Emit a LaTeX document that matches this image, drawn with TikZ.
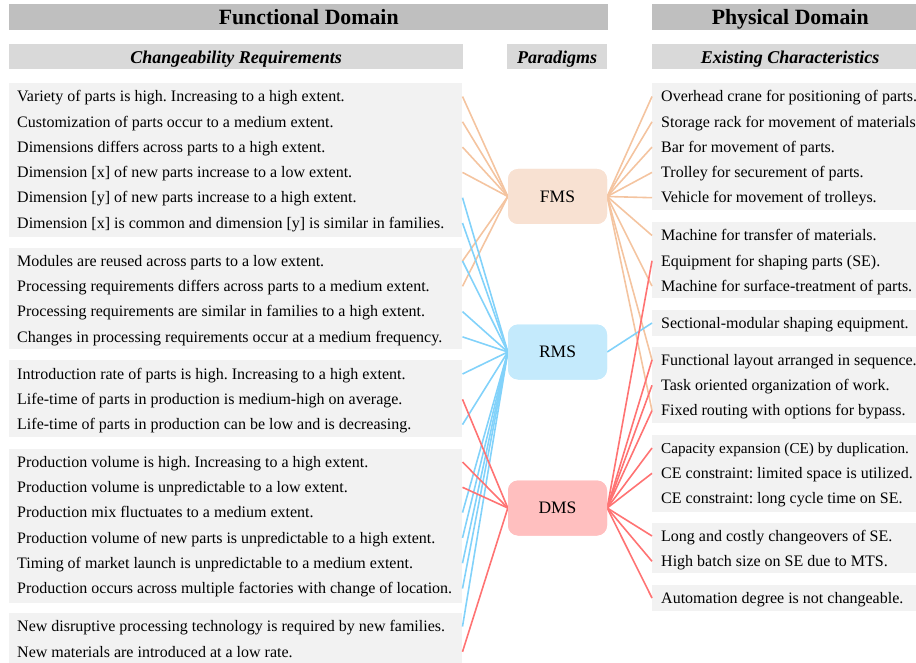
\documentclass[tikz,border=0pt]{standalone}
\usepackage{fontspec}
\setmainfont{Liberation Serif}
\frenchspacing
\definecolor{hdrgray}{HTML}{BFBFBF}
\definecolor{subgray}{HTML}{D9D9D9}
\definecolor{boxgray}{HTML}{F2F2F2}
\definecolor{fmsfill}{HTML}{F8E1D2}
\definecolor{fmsline}{HTML}{F4C4A0}
\definecolor{rmsfill}{HTML}{C4EAFC}
\definecolor{rmsline}{HTML}{82D2FA}
\definecolor{dmsfill}{HTML}{FFBFBF}
\definecolor{dmsline}{HTML}{FF7373}
\begin{document}
\begin{tikzpicture}[x=1pt,y=-1pt,
  hdrbar/.style={fill=hdrgray,draw=none,inner sep=0pt,anchor=north west,minimum height=26pt,
    text height=14.6pt,text depth=0pt,font=\fontsize{21.8}{24}\selectfont\bfseries},
  subbar/.style={fill=subgray,draw=none,inner sep=0pt,anchor=north west,minimum height=25pt,
    text height=14.6pt,text depth=0pt,font=\fontsize{18}{20}\selectfont\bfseries\itshape},
  gbox/.style={fill=boxgray,draw=none,inner sep=0pt,anchor=north west},
  lbox/.style={gbox,minimum width=453pt},
  rbox/.style={gbox,minimum width=280pt},
  rowtext/.style={anchor=west,inner sep=0pt,text height=10.5pt,text depth=0pt,
    font=\fontsize{16}{18}\selectfont},
  paradigm/.style={rounded corners=10pt,draw=none,minimum width=99pt,minimum height=55pt,
    inner sep=0pt,font=\fontsize{17.5}{20}\selectfont},
  fmsc/.style={draw=fmsline,line width=1.6pt},
  rmsc/.style={draw=rmsline,line width=1.6pt},
  dmsc/.style={draw=dmsline,line width=1.6pt}]
\useasboundingbox (0,0) rectangle (916,663);
\clip (0,0) rectangle (916,663);

% headers
\node[hdrbar,minimum width=599pt] (fdom) at (9,4) {Functional Domain};
\node[hdrbar,minimum width=276pt] (pdom) at (652,4) {Physical Domain};
\node[subbar,minimum width=454pt] (chreq) at (9,44) {Changeability Requirements};
\node[subbar,minimum width=100pt] (parad) at (507,44) {Paradigms};
\node[subbar,minimum width=276pt] (exch) at (652,44) {Existing Characteristics};

% left group boxes
\node[lbox,minimum height=154pt] (lg1) at (9,83) {};
\node[lbox,minimum height=101pt] (lg2) at (9,248) {};
\node[lbox,minimum height=77pt] (lg3) at (9,360) {};
\node[lbox,minimum height=154pt] (lg4) at (9,449) {};
\node[lbox,minimum height=60pt] (lg5) at (9,613) {};

% right group boxes
\node[rbox,minimum height=127pt] (rg1) at (652,83) {};
\node[rbox,minimum height=76pt] (rg2) at (652,222) {};
\node[rbox,minimum height=26pt] (rg3) at (652,310) {};
\node[rbox,minimum height=76pt] (rg4) at (652,347) {};
\node[rbox,minimum height=77pt] (rg5) at (652,435) {};
\node[rbox,minimum height=50pt] (rg6) at (652,523) {};
\node[rbox,minimum height=26pt] (rg7) at (652,585) {};

% edges of the columns
\coordinate (LE) at (462.5,0);
\coordinate (RE) at (652,0);

% left rows
\node[rowtext] (l1) at (17,96.5) {Variety of parts is high. Increasing to a high extent.};
\node[rowtext] (l2) at (17,121.8) {Customization of parts occur to a medium extent.};
\node[rowtext] (l3) at (17,147.1) {Dimensions differs across parts to a high extent.};
\node[rowtext] (l4) at (17,172.4) {Dimension [x] of new parts increase to a low extent.};
\node[rowtext] (l5) at (17,197.7) {Dimension [y] of new parts increase to a high extent.};
\node[rowtext] (l6) at (17,223) {Dimension [x] is common and dimension [y] is similar in families.};
\node[rowtext] (l7) at (17,261) {Modules are reused across parts to a low extent.};
\node[rowtext] (l8) at (17,286.3) {Processing requirements differs across parts to a medium extent.};
\node[rowtext] (l9) at (17,311.6) {Processing requirements are similar in families to a high extent.};
\node[rowtext] (l10) at (17,336.9) {Changes in processing requirements occur at a medium frequency.};
\node[rowtext] (l11) at (17,374) {Introduction rate of parts is high. Increasing to a high extent.};
\node[rowtext] (l12) at (17,399.3) {Life-time of parts in production is medium-high on average.};
\node[rowtext] (l13) at (17,424.6) {Life-time of parts in production can be low and is decreasing.};
\node[rowtext] (l14) at (17,462) {Production volume is high. Increasing to a high extent.};
\node[rowtext] (l15) at (17,487.3) {Production volume is unpredictable to a low extent.};
\node[rowtext] (l16) at (17,512.6) {Production mix fluctuates to a medium extent.};
\node[rowtext] (l17) at (17,537.9) {Production volume of new parts is unpredictable to a high extent.};
\node[rowtext] (l18) at (17,563.2) {Timing of market launch is unpredictable to a medium extent.};
\node[rowtext] (l19) at (17,588.5) {Production occurs across multiple factories with change of location.};
\node[rowtext] (l20) at (17,626.5) {New disruptive processing technology is required by new families.};
\node[rowtext] (l21) at (17,651.8) {New materials are introduced at a low rate.};

% right rows
\node[rowtext] (r1) at (661,96.5) {Overhead crane for positioning of parts.};
\node[rowtext] (r2) at (661,121.8) {Storage rack for movement of materials};
\node[rowtext] (r3) at (661,147.1) {Bar for movement of parts.};
\node[rowtext] (r4) at (661,172.4) {Trolley for securement of parts.};
\node[rowtext] (r5) at (661,197.7) {Vehicle for movement of trolleys.};
\node[rowtext] (r6) at (661,235.5) {Machine for transfer of materials.};
\node[rowtext] (r7) at (661,260.8) {Equipment for shaping parts (SE).};
\node[rowtext] (r8) at (661,286.1) {Machine for surface-treatment of parts.};
\node[rowtext] (r9) at (661,323) {Sectional-modular shaping equipment.};
\node[rowtext] (r10) at (661,360) {Functional layout arranged in sequence.};
\node[rowtext] (r11) at (661,385.3) {Task oriented organization of work.};
\node[rowtext] (r12) at (661,410.6) {Fixed routing with options for bypass.};
\node[rowtext,font=\fontsize{15.2}{18}\selectfont] (r13) at (661,448) {Capacity expansion (CE) by duplication.};
\node[rowtext] (r14) at (661,473.3) {CE constraint: limited space is utilized.};
\node[rowtext] (r15) at (661,498.6) {CE constraint: long cycle time on SE.};
\node[rowtext] (r16) at (661,536) {Long and costly changeovers of SE.};
\node[rowtext] (r17) at (661,561.3) {High batch size on SE due to MTS.};
\node[rowtext] (r18) at (661,598) {Automation degree is not changeable.};

% paradigm positions
\coordinate (pF) at (557.5,196.5);
\coordinate (pR) at (557.5,352);
\coordinate (pD) at (557.5,508);
\path (pF) node[paradigm,fill=fmsfill] (fms) {FMS};
\path (pR) node[paradigm,fill=rmsfill] (rms) {RMS};
\path (pD) node[paradigm,fill=dmsfill] (dms) {DMS};

% FMS connectors
\foreach \n in {l1,l2,l3,l4,l7,l8} \draw[fmsc] (\n -| LE) -- (fms.west);
\foreach \n in {r1,r2,r3,r4,r5,r6,r8,r10,r12} \draw[fmsc] (fms.east) -- (\n -| RE);
% RMS connectors
\foreach \n in {l5,l6,l7,l9,l10,l11,l13,l16,l17,l18,l19,l20} \draw[rmsc] (\n -| LE) -- (rms.west);
\draw[rmsc] (rms.east) -- (r9 -| RE);
% DMS connectors
\foreach \n in {l12,l14,l15,l21} \draw[dmsc] (\n -| LE) -- (dms.west);
\foreach \n in {r7,r10,r11,r12,r13,r14,r16,r17,r18} \draw[dmsc] (dms.east) -- (\n -| RE);

% redraw paradigm boxes on top
\path (pF) node[paradigm,fill=fmsfill] (fmsT) {FMS};
\path (pR) node[paradigm,fill=rmsfill] (rmsT) {RMS};
\path (pD) node[paradigm,fill=dmsfill] (dmsT) {DMS};
\end{tikzpicture}
\end{document}
